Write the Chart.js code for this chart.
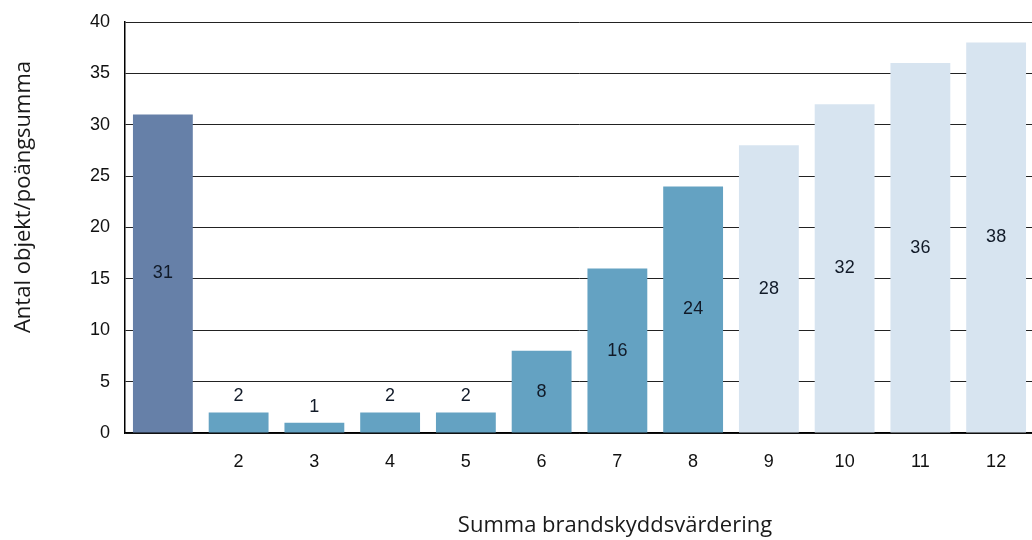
<!DOCTYPE html>
<html>
<head>
<meta charset="utf-8">
<script src="https://cdn.jsdelivr.net/npm/chart.js@4/dist/chart.umd.min.js"></script>
<style>
  html, body { margin: 0; padding: 0; background: #fff; overflow: hidden; }
  #wrap { width: 1040px; height: 540px; position: relative; }
</style>
</head>
<body>
<div id="wrap"><canvas id="c" width="1040" height="540"></canvas></div>
<script>
const categories = ['', '2', '3', '4', '5', '6', '7', '8', '9', '10', '11', '12'];
const values = [31, 2, 1, 2, 2, 8, 16, 24, 28, 32, 36, 38];
const barColors = ['#6680A8', '#64A2C2', '#64A2C2', '#64A2C2', '#64A2C2', '#64A2C2', '#64A2C2', '#64A2C2', '#D7E4F0', '#D7E4F0', '#D7E4F0', '#D7E4F0'];
const yTitle = 'Antal objekt/poängsumma';
const xTitle = 'Summa brandskyddsvärdering';

const labelPlugin = {
  id: 'barLabels',
  afterDatasetsDraw(chart) {
    const ctx = chart.ctx;
    const meta = chart.getDatasetMeta(0);
    ctx.save();
    ctx.font = '18px "Liberation Sans", Arial, sans-serif';
    ctx.fillStyle = '#111a28';
    ctx.textAlign = 'center';
    ctx.textBaseline = 'middle';
    meta.data.forEach((bar, i) => {
      const h = bar.base - bar.y;
      let y;
      if (h > 30) y = (bar.y + bar.base) / 2;
      else y = bar.y - 16;
      ctx.fillText(String(values[i]), bar.x, y);
    });
    ctx.restore();
  }
};

const titlePlugin = {
  id: 'axisTitles',
  afterDraw(chart) {
    const ctx = chart.ctx;
    const a = chart.chartArea;
    ctx.save();
    ctx.fillStyle = '#1a1a1a';
    ctx.font = '22px "Open Sans", sans-serif';
    ctx.textAlign = 'center';
    ctx.textBaseline = 'middle';
    ctx.fillText(xTitle, a.left + 490, 526);
    ctx.translate(24, a.top + 175);
    ctx.rotate(-Math.PI / 2);
    ctx.fillText(yTitle, 0, 0);
    ctx.restore();
  }
};

new Chart(document.getElementById('c'), {
  type: 'bar',
  data: {
    labels: categories,
    datasets: [{
      data: values,
      backgroundColor: barColors,
      borderWidth: 0,
      barPercentage: 0.79,
      categoryPercentage: 1.0
    }]
  },
  options: {
    responsive: false,
    animation: false,
    devicePixelRatio: 1,
    layout: { padding: { top: 22, right: 6, left: 0, bottom: 0 } },
    plugins: { legend: { display: false }, tooltip: { enabled: false } },
    scales: {
      x: {
        grid: { display: false, drawTicks: false },
        border: { display: true, color: '#000', width: 1.5 },
        ticks: { color: '#111', font: { family: '"Liberation Sans", Arial, sans-serif', size: 18 }, padding: 18, maxRotation: 0 },
        afterFit(s) { s.height = 107; s.paddingLeft = 0; s.paddingRight = 0; }
      },
      y: {
        min: 0, max: 40,
        grid: { color: '#222', lineWidth: 1, drawTicks: false },
        border: { display: true, color: '#000', width: 1.5 },
        ticks: { stepSize: 5, color: '#111', font: { family: '"Liberation Sans", Arial, sans-serif', size: 18 }, padding: 15 },
        afterFit(s) { s.width = 125; s.paddingTop = 0; s.paddingBottom = 0; }
      }
    }
  },
  plugins: [labelPlugin, titlePlugin]
});
</script>
</body>
</html>
